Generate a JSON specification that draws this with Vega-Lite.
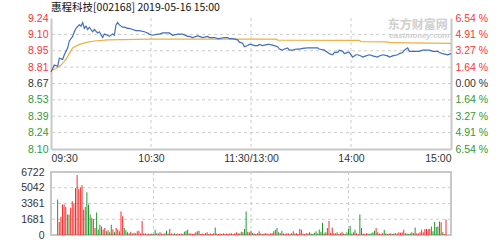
{
"$schema":"https://vega.github.io/schema/vega-lite/v6.json",
"background":"white",
"padding":{"left":19,"top":2,"right":5,"bottom":0},
"config":{"view":{"stroke":null},"font":"Liberation Sans",
 "axis":{"labelFont":"Liberation Sans","labelFontSize":10.5,"title":null,"ticks":false,"grid":false,"labelOverlap":false,"domainColor":"#c8c8c8","domainWidth":2,"labelColor":"#333333"}},
"datasets":{
"price":[{"m":0,"p":8.77},{"m":1,"p":8.8},{"m":2,"p":8.83},{"m":4,"p":8.82},{"m":5,"p":8.89},{"m":7,"p":8.88},{"m":8,"p":8.92},{"m":10,"p":8.98},{"m":11,"p":9.04},{"m":13,"p":9.08},{"m":14,"p":9.12},{"m":15,"p":9.15},{"m":17,"p":9.18},{"m":18,"p":9.17},{"m":19,"p":9.2},{"m":20,"p":9.15},{"m":21,"p":9.17},{"m":22,"p":9.14},{"m":23,"p":9.16},{"m":25,"p":9.12},{"m":26,"p":9.14},{"m":28,"p":9.11},{"m":29,"p":9.12},{"m":31,"p":9.07},{"m":32,"p":9.1},{"m":34,"p":9.09},{"m":35,"p":9.08},{"m":37,"p":9.1},{"m":38,"p":9.09},{"m":39,"p":9.18},{"m":40,"p":9.2},{"m":41,"p":9.18},{"m":43,"p":9.16},{"m":44,"p":9.16},{"m":46,"p":9.15},{"m":47,"p":9.15},{"m":49,"p":9.14},{"m":51,"p":9.13},{"m":53,"p":9.13},{"m":56,"p":9.12},{"m":58,"p":9.11},{"m":59,"p":9.1},{"m":61,"p":9.09},{"m":64,"p":9.1},{"m":65,"p":9.1},{"m":67,"p":9.11},{"m":70,"p":9.11},{"m":71,"p":9.11},{"m":73,"p":9.09},{"m":76,"p":9.1},{"m":77,"p":9.1},{"m":79,"p":9.1},{"m":82,"p":9.08},{"m":83,"p":9.08},{"m":85,"p":9.07},{"m":88,"p":9.085},{"m":89,"p":9.08},{"m":91,"p":9.07},{"m":94,"p":9.08},{"m":95,"p":9.07},{"m":97,"p":9.07},{"m":98,"p":9.07},{"m":100,"p":9.06},{"m":101,"p":9.06},{"m":104,"p":9.07},{"m":106,"p":9.07},{"m":107,"p":9.06},{"m":109,"p":9.06},{"m":112,"p":9.05},{"m":113,"p":9.03},{"m":115,"p":9.02},{"m":116,"p":8.99},{"m":118,"p":9.0},{"m":119,"p":9.01},{"m":120,"p":9.01},{"m":122,"p":9.0},{"m":124,"p":9.0},{"m":125,"p":9.01},{"m":127,"p":9.0},{"m":130,"p":9.01},{"m":131,"p":9.01},{"m":134,"p":9.0},{"m":136,"p":8.99},{"m":137,"p":8.97},{"m":139,"p":8.96},{"m":140,"p":8.97},{"m":142,"p":8.98},{"m":143,"p":8.96},{"m":145,"p":8.96},{"m":147,"p":8.97},{"m":149,"p":8.97},{"m":151,"p":8.975},{"m":154,"p":8.98},{"m":155,"p":8.98},{"m":157,"p":8.98},{"m":160,"p":8.98},{"m":161,"p":8.97},{"m":164,"p":8.96},{"m":166,"p":8.94},{"m":167,"p":8.93},{"m":169,"p":8.92},{"m":170,"p":8.94},{"m":172,"p":8.94},{"m":173,"p":8.96},{"m":175,"p":8.95},{"m":176,"p":8.93},{"m":178,"p":8.94},{"m":179,"p":8.94},{"m":181,"p":8.9},{"m":183,"p":8.92},{"m":184,"p":8.92},{"m":186,"p":8.91},{"m":187,"p":8.9},{"m":189,"p":8.91},{"m":191,"p":8.92},{"m":193,"p":8.91},{"m":196,"p":8.9},{"m":197,"p":8.91},{"m":199,"p":8.92},{"m":202,"p":8.91},{"m":203,"p":8.9},{"m":205,"p":8.91},{"m":208,"p":8.92},{"m":209,"p":8.93},{"m":211,"p":8.94},{"m":212,"p":8.96},{"m":214,"p":8.98},{"m":215,"p":8.95},{"m":217,"p":8.95},{"m":220,"p":8.95},{"m":221,"p":8.95},{"m":223,"p":8.96},{"m":226,"p":8.96},{"m":227,"p":8.96},{"m":229,"p":8.95},{"m":232,"p":8.95},{"m":233,"p":8.94},{"m":235,"p":8.93},{"m":238,"p":8.92},{"m":240,"p":8.93}],
"avg":[{"m":0,"p":8.78},{"m":3,"p":8.8},{"m":6,"p":8.83},{"m":9,"p":8.88},{"m":11,"p":8.93},{"m":13,"p":8.98},{"m":17,"p":9.01},{"m":22,"p":9.03},{"m":26,"p":9.04},{"m":34,"p":9.05},{"m":60,"p":9.056},{"m":135,"p":9.056},{"m":136,"p":9.048},{"m":185,"p":9.045},{"m":186,"p":9.035},{"m":202,"p":9.032},{"m":203,"p":9.025},{"m":240,"p":9.02}],
"mark":[{"cn":"东方财富网","en":"eastmoney.com"}],
"vgrid":[{"m":60},{"m":120},{"m":180}],
"pgrid":[{"p":8.2425},{"p":8.3851},{"p":8.5275},{"p":8.67},{"p":8.8125},{"p":8.9549},{"p":9.0975}],
"vlgrid":[{"v":1681},{"v":3361},{"v":5042}],
"vol":[{"m":1,"v":3800,"c":"g"},{"m":2,"v":1400,"c":"r"},{"m":3,"v":1950,"c":"r"},{"m":4,"v":3250,"c":"r"},{"m":5,"v":3250,"c":"r"},{"m":6,"v":3000,"c":"r"},{"m":7,"v":2200,"c":"g"},{"m":8,"v":2200,"c":"g"},{"m":9,"v":2900,"c":"r"},{"m":10,"v":3600,"c":"r"},{"m":11,"v":3400,"c":"r"},{"m":12,"v":5000,"c":"r"},{"m":13,"v":6400,"c":"r"},{"m":14,"v":4900,"c":"r"},{"m":15,"v":5100,"c":"r"},{"m":16,"v":5300,"c":"r"},{"m":17,"v":2700,"c":"g"},{"m":18,"v":3000,"c":"r"},{"m":19,"v":4550,"c":"g"},{"m":20,"v":3250,"c":"g"},{"m":21,"v":2200,"c":"g"},{"m":22,"v":1850,"c":"r"},{"m":23,"v":1700,"c":"g"},{"m":24,"v":750,"c":"r"},{"m":25,"v":2400,"c":"g"},{"m":26,"v":600,"c":"g"},{"m":27,"v":1100,"c":"g"},{"m":28,"v":900,"c":"r"},{"m":29,"v":600,"c":"r"},{"m":30,"v":750,"c":"r"},{"m":31,"v":400,"c":"g"},{"m":32,"v":500,"c":"r"},{"m":33,"v":300,"c":"g"},{"m":34,"v":1100,"c":"g"},{"m":35,"v":600,"c":"r"},{"m":36,"v":300,"c":"g"},{"m":37,"v":750,"c":"r"},{"m":38,"v":600,"c":"r"},{"m":39,"v":400,"c":"r"},{"m":40,"v":2500,"c":"r"},{"m":41,"v":2000,"c":"r"},{"m":42,"v":750,"c":"g"},{"m":43,"v":500,"c":"g"},{"m":44,"v":300,"c":"r"},{"m":45,"v":200,"c":"r"},{"m":46,"v":350,"c":"r"},{"m":47,"v":150,"c":"g"},{"m":48,"v":250,"c":"r"},{"m":49,"v":200,"c":"r"},{"m":50,"v":400,"c":"r"},{"m":51,"v":450,"c":"r"},{"m":52,"v":150,"c":"r"},{"m":53,"v":1500,"c":"r"},{"m":54,"v":200,"c":"r"},{"m":55,"v":150,"c":"g"},{"m":56,"v":100,"c":"r"},{"m":57,"v":150,"c":"r"},{"m":58,"v":100,"c":"g"},{"m":59,"v":150,"c":"r"},{"m":60,"v":100,"c":"r"},{"m":61,"v":550,"c":"g"},{"m":62,"v":200,"c":"g"},{"m":63,"v":150,"c":"r"},{"m":64,"v":300,"c":"r"},{"m":65,"v":150,"c":"g"},{"m":66,"v":100,"c":"r"},{"m":67,"v":200,"c":"r"},{"m":68,"v":450,"c":"g"},{"m":69,"v":150,"c":"r"},{"m":70,"v":650,"c":"r"},{"m":71,"v":150,"c":"r"},{"m":72,"v":100,"c":"r"},{"m":73,"v":200,"c":"g"},{"m":74,"v":100,"c":"r"},{"m":75,"v":150,"c":"r"},{"m":76,"v":100,"c":"r"},{"m":77,"v":150,"c":"r"},{"m":78,"v":100,"c":"r"},{"m":79,"v":350,"c":"g"},{"m":80,"v":450,"c":"g"},{"m":81,"v":550,"c":"g"},{"m":82,"v":150,"c":"r"},{"m":83,"v":200,"c":"r"},{"m":84,"v":100,"c":"r"},{"m":85,"v":150,"c":"r"},{"m":86,"v":300,"c":"r"},{"m":87,"v":400,"c":"r"},{"m":88,"v":450,"c":"g"},{"m":89,"v":100,"c":"r"},{"m":90,"v":150,"c":"r"},{"m":91,"v":100,"c":"r"},{"m":92,"v":200,"c":"r"},{"m":93,"v":300,"c":"r"},{"m":94,"v":100,"c":"r"},{"m":95,"v":150,"c":"r"},{"m":96,"v":100,"c":"r"},{"m":97,"v":200,"c":"g"},{"m":98,"v":800,"c":"g"},{"m":99,"v":150,"c":"r"},{"m":100,"v":100,"c":"r"},{"m":101,"v":150,"c":"r"},{"m":102,"v":100,"c":"r"},{"m":103,"v":200,"c":"r"},{"m":104,"v":100,"c":"r"},{"m":105,"v":150,"c":"r"},{"m":106,"v":100,"c":"r"},{"m":107,"v":200,"c":"r"},{"m":108,"v":150,"c":"r"},{"m":109,"v":100,"c":"r"},{"m":110,"v":200,"c":"r"},{"m":111,"v":300,"c":"r"},{"m":112,"v":200,"c":"r"},{"m":113,"v":150,"c":"g"},{"m":114,"v":350,"c":"g"},{"m":115,"v":300,"c":"r"},{"m":116,"v":650,"c":"g"},{"m":117,"v":2500,"c":"g"},{"m":118,"v":350,"c":"r"},{"m":119,"v":300,"c":"r"},{"m":120,"v":450,"c":"r"},{"m":121,"v":250,"c":"g"},{"m":122,"v":150,"c":"r"},{"m":123,"v":100,"c":"r"},{"m":124,"v":200,"c":"r"},{"m":125,"v":400,"c":"r"},{"m":126,"v":150,"c":"g"},{"m":127,"v":100,"c":"r"},{"m":128,"v":150,"c":"r"},{"m":129,"v":200,"c":"r"},{"m":130,"v":150,"c":"r"},{"m":131,"v":100,"c":"r"},{"m":132,"v":150,"c":"r"},{"m":133,"v":200,"c":"r"},{"m":134,"v":400,"c":"r"},{"m":135,"v":550,"c":"g"},{"m":136,"v":750,"c":"g"},{"m":137,"v":300,"c":"g"},{"m":138,"v":200,"c":"r"},{"m":139,"v":450,"c":"g"},{"m":140,"v":150,"c":"r"},{"m":141,"v":100,"c":"r"},{"m":142,"v":200,"c":"r"},{"m":143,"v":150,"c":"r"},{"m":144,"v":100,"c":"r"},{"m":145,"v":200,"c":"g"},{"m":146,"v":400,"c":"g"},{"m":147,"v":150,"c":"r"},{"m":148,"v":200,"c":"r"},{"m":149,"v":100,"c":"r"},{"m":150,"v":650,"c":"r"},{"m":151,"v":550,"c":"r"},{"m":152,"v":150,"c":"r"},{"m":153,"v":100,"c":"r"},{"m":154,"v":200,"c":"r"},{"m":155,"v":150,"c":"g"},{"m":156,"v":300,"c":"r"},{"m":157,"v":150,"c":"r"},{"m":158,"v":100,"c":"g"},{"m":159,"v":250,"c":"g"},{"m":160,"v":400,"c":"g"},{"m":161,"v":150,"c":"r"},{"m":162,"v":600,"c":"g"},{"m":163,"v":350,"c":"g"},{"m":164,"v":1300,"c":"g"},{"m":165,"v":200,"c":"r"},{"m":166,"v":300,"c":"g"},{"m":167,"v":750,"c":"g"},{"m":168,"v":1500,"c":"r"},{"m":169,"v":250,"c":"r"},{"m":170,"v":800,"c":"r"},{"m":171,"v":200,"c":"r"},{"m":172,"v":150,"c":"r"},{"m":173,"v":300,"c":"g"},{"m":174,"v":100,"c":"r"},{"m":175,"v":200,"c":"r"},{"m":176,"v":350,"c":"r"},{"m":177,"v":150,"c":"r"},{"m":178,"v":100,"c":"r"},{"m":179,"v":300,"c":"g"},{"m":180,"v":650,"c":"g"},{"m":181,"v":1000,"c":"g"},{"m":182,"v":150,"c":"r"},{"m":183,"v":300,"c":"g"},{"m":184,"v":550,"c":"g"},{"m":185,"v":200,"c":"r"},{"m":186,"v":100,"c":"r"},{"m":187,"v":2200,"c":"g"},{"m":188,"v":750,"c":"r"},{"m":189,"v":150,"c":"r"},{"m":190,"v":100,"c":"r"},{"m":191,"v":200,"c":"r"},{"m":192,"v":150,"c":"g"},{"m":193,"v":100,"c":"g"},{"m":194,"v":200,"c":"g"},{"m":195,"v":300,"c":"g"},{"m":196,"v":450,"c":"g"},{"m":197,"v":750,"c":"r"},{"m":198,"v":300,"c":"r"},{"m":199,"v":150,"c":"r"},{"m":200,"v":100,"c":"r"},{"m":201,"v":200,"c":"r"},{"m":202,"v":550,"c":"g"},{"m":203,"v":150,"c":"g"},{"m":204,"v":100,"c":"r"},{"m":205,"v":150,"c":"r"},{"m":206,"v":200,"c":"r"},{"m":207,"v":100,"c":"g"},{"m":208,"v":150,"c":"r"},{"m":209,"v":200,"c":"r"},{"m":210,"v":150,"c":"g"},{"m":211,"v":300,"c":"r"},{"m":212,"v":250,"c":"r"},{"m":213,"v":300,"c":"r"},{"m":214,"v":550,"c":"r"},{"m":215,"v":200,"c":"g"},{"m":216,"v":150,"c":"g"},{"m":217,"v":100,"c":"g"},{"m":218,"v":150,"c":"g"},{"m":219,"v":300,"c":"r"},{"m":220,"v":200,"c":"g"},{"m":221,"v":800,"c":"g"},{"m":222,"v":200,"c":"r"},{"m":223,"v":150,"c":"r"},{"m":224,"v":300,"c":"r"},{"m":225,"v":550,"c":"r"},{"m":226,"v":300,"c":"r"},{"m":227,"v":650,"c":"r"},{"m":228,"v":650,"c":"r"},{"m":229,"v":650,"c":"r"},{"m":230,"v":650,"c":"r"},{"m":231,"v":900,"c":"g"},{"m":232,"v":400,"c":"g"},{"m":233,"v":1400,"c":"g"},{"m":234,"v":850,"c":"g"},{"m":235,"v":900,"c":"g"},{"m":236,"v":1450,"c":"r"},{"m":237,"v":1350,"c":"r"},{"m":238,"v":300,"c":"g"},{"m":239,"v":100,"c":"r"},{"m":240,"v":1650,"c":"r"}]
},
"vconcat":[
{
 "width":400,"height":131,
 "title":{"text":"惠程科技[002168] 2019-05-16 15:00","anchor":"start","frame":"group","font":"Noto Sans CJK SC","fontSize":10.5,"fontWeight":"normal","color":"#111111","offset":0},
 "layer":[
  {"data":{"name":"vgrid"},"mark":{"type":"rule","color":"#cccccc","strokeDash":[3,3],"strokeWidth":1},
   "encoding":{"x":{"field":"m","type":"quantitative"}}},
  {"data":{"name":"pgrid"},"mark":{"type":"rule","color":"#cccccc","strokeDash":[3,3],"strokeWidth":1},
   "encoding":{"y":{"field":"p","type":"quantitative","axis":null}}},
  {"data":{"name":"avg"},"mark":{"type":"line","color":"#eeb040","strokeWidth":1.2},
   "encoding":{
    "x":{"field":"m","type":"quantitative","scale":{"domain":[0,240],"nice":false,"zero":false},
      "axis":{"orient":"bottom","values":[0,60,120,180,240],"labelFlush":true,"labelPadding":4,"labelOverlap":false,
        "labelExpr":"datum.value == 0 ? '09:30' : datum.value == 60 ? '10:30' : datum.value == 120 ? '11:30/13:00' : datum.value == 180 ? '14:00' : '15:00'"}},
    "y":{"field":"p","type":"quantitative","scale":{"domain":[8.1,9.24],"nice":false,"zero":false},
      "axis":{"orient":"left","values":[8.1,8.2425,8.3851,8.5275,8.67,8.8125,8.9549,9.0975,9.24],"format":".2f","labelPadding":3,"labelOverlap":false,
        "labelColor":{"condition":[{"test":"datum.value > 8.7","value":"#ff3333"},{"test":"datum.value < 8.6","value":"#339933"}],"value":"#333333"}}}}},
  {"data":{"name":"mark"},"mark":{"type":"text","font":"Noto Sans CJK SC","fontSize":12,"fontWeight":"bold","color":"#cfcfcf","align":"center","baseline":"middle"},
   "encoding":{"x":{"datum":220,"type":"quantitative"},"y":{"datum":9.175,"type":"quantitative","axis":null},"text":{"field":"cn"}}},
  {"data":{"name":"mark"},"mark":{"type":"text","font":"Liberation Sans","fontSize":8,"fontWeight":"bold","fontStyle":"italic","color":"#cfcfcf","align":"center","baseline":"middle"},
   "encoding":{"x":{"datum":221,"type":"quantitative"},"y":{"datum":9.08,"type":"quantitative","axis":null},"text":{"field":"en"}}},
  {"data":{"name":"price"},"mark":{"type":"line","color":"#3f6fbf","strokeWidth":1.2},
   "encoding":{
    "x":{"field":"m","type":"quantitative"},
    "y":{"field":"p","type":"quantitative",
      "axis":{"orient":"right","values":[8.1,8.2425,8.3851,8.5275,8.67,8.8125,8.9549,9.0975,9.24],"labelPadding":4,"labelOverlap":false,
        "labelExpr":"datum.value > 9.2 ? '6.54 %' : datum.value > 9.05 ? '4.91 %' : datum.value > 8.9 ? '3.27 %' : datum.value > 8.75 ? '1.64 %' : datum.value > 8.6 ? '0.00 %' : datum.value > 8.45 ? '1.64 %' : datum.value > 8.3 ? '3.27 %' : datum.value > 8.2 ? '4.91 %' : '6.54 %'",
        "labelColor":{"condition":[{"test":"datum.value > 8.7","value":"#ff3333"},{"test":"datum.value < 8.6","value":"#339933"}],"value":"#333333"}}}}}
 ],
 "resolve":{"axis":{"y":"independent"}}
},
{
 "width":400,"height":63,
 "view":{"stroke":"#c8c8c8","strokeWidth":2},
 "layer":[
  {"data":{"name":"vgrid"},"mark":{"type":"rule","color":"#cccccc","strokeDash":[3,3],"strokeWidth":1},
   "encoding":{"x":{"field":"m","type":"quantitative"}}},
  {"data":{"name":"vlgrid"},"mark":{"type":"rule","color":"#cccccc","strokeDash":[3,3],"strokeWidth":1},
   "encoding":{"y":{"field":"v","type":"quantitative","axis":null}}},
  {"data":{"name":"vol"},"mark":{"type":"bar","size":1},
   "encoding":{
    "x":{"field":"m","type":"quantitative","scale":{"domain":[0,240],"nice":false,"zero":false},"axis":null},
    "y":{"field":"v","type":"quantitative","scale":{"domain":[0,6722],"nice":false},
      "axis":{"values":[0,1681,3361,5042,6722],"format":"d","domain":false,"labelPadding":7,"labelOverlap":false}},
    "color":{"field":"c","type":"nominal","scale":{"domain":["r","g"],"range":["#ff2a2a","#1f9a2a"]},"legend":null}}}
 ],
 "resolve":{"axis":{"y":"independent"}}
}
],
"spacing":23,
"bounds":"flush"
}
